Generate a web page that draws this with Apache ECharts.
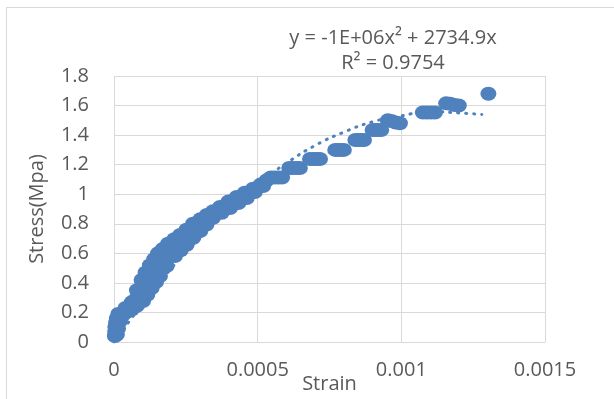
<!DOCTYPE html>
<html>
<head>
<meta charset="utf-8">
<script src="https://cdn.jsdelivr.net/npm/echarts@6/dist/echarts.min.js"></script>
<style>
  html, body { margin: 0; padding: 0; background: #fff; }
  #chart { position: absolute; left: 0; top: 0; width: 614px; height: 399px; }
  #frame { position: absolute; left: 6px; top: 7px; width: 608px; height: 392px;
           border-top: 1px solid #d9d9d9; border-left: 1px solid #d9d9d9; pointer-events: none; }
</style>
</head>
<body>
<div id="chart"></div>
<div id="frame"></div>
<script>
// measured points (strain, stress in MPa), read off the picture
// near-vertical start
const startStrain = [0.000003, 0.000004, 0.000005, 0.000007, 0.000010, 0.000015, 0.000010, 0.000014, 0.000020, 0.000030, 0.000040, 0.000050];
const startStress = [0.04, 0.07, 0.10, 0.13, 0.16, 0.19, 0.05, 0.09, 0.14, 0.18, 0.20, 0.21];

// upper edge of the rising band
const upperStrain = [0.000021, 0.000040, 0.000062, 0.000080, 0.000096, 0.000110, 0.000125, 0.000140, 0.000153, 0.000170, 0.000188, 0.000210, 0.000230, 0.000252, 0.000275, 0.000300, 0.000323, 0.000345, 0.000369, 0.000398, 0.000427, 0.000455, 0.000484, 0.000510, 0.000531];
const upperStress = [0.19, 0.23, 0.27, 0.35, 0.42, 0.47, 0.52, 0.56, 0.60, 0.63, 0.665, 0.695, 0.724, 0.76, 0.80, 0.83, 0.859, 0.885, 0.914, 0.95, 0.981, 1.01, 1.037, 1.065, 1.094];

// middle of the rising band
const midStrain = [0.000062, 0.000072, 0.000080, 0.000090, 0.000101, 0.000115, 0.000131, 0.000145, 0.000160, 0.000172, 0.000183, 0.000197, 0.000212, 0.000232, 0.000253, 0.000276, 0.000299, 0.000322, 0.000345, 0.000375, 0.000404, 0.000433, 0.000462, 0.000490, 0.000519];
const midStress = [0.245, 0.27, 0.30, 0.33, 0.365, 0.41, 0.453, 0.49, 0.528, 0.555, 0.585, 0.615, 0.643, 0.675, 0.71, 0.75, 0.79, 0.825, 0.857, 0.893, 0.929, 0.958, 0.988, 1.025, 1.069];

// lower edge of the rising band
const lowerStrain = [0.000062, 0.000080, 0.000101, 0.000116, 0.000131, 0.000146, 0.000160, 0.000183, 0.000212, 0.000232, 0.000253, 0.000276, 0.000300, 0.000322, 0.000345, 0.000375, 0.000404, 0.000433, 0.000462, 0.000490, 0.000519];
const lowerStress = [0.219, 0.245, 0.277, 0.32, 0.365, 0.405, 0.447, 0.514, 0.582, 0.62, 0.658, 0.705, 0.75, 0.795, 0.84, 0.875, 0.907, 0.94, 0.974, 1.015, 1.055];

// stepped plateaus at the top
const stepStrain = [
  0.000546, 0.000559, 0.000572, 0.000585,
  0.000610, 0.000622, 0.000635, 0.000647,
  0.000682, 0.000694, 0.000706, 0.000717,
  0.000770, 0.000780, 0.000790, 0.000800,
  0.000840, 0.000850, 0.000860, 0.000870,
  0.000900, 0.000910, 0.000920, 0.000930,
  0.000953, 0.000965, 0.000980, 0.000995,
  0.001075, 0.001089, 0.001103, 0.001117,
  0.001156, 0.001170, 0.001185, 0.001200,
  0.001303
];
const stepStress = [
  1.113, 1.113, 1.113, 1.113,
  1.177, 1.177, 1.177, 1.177,
  1.238, 1.238, 1.238, 1.238,
  1.300, 1.300, 1.300, 1.300,
  1.367, 1.367, 1.367, 1.367,
  1.435, 1.435, 1.435, 1.435,
  1.500, 1.495, 1.485, 1.480,
  1.553, 1.553, 1.553, 1.553,
  1.615, 1.612, 1.603, 1.600,
  1.680
];

// polynomial trendline
const trendStrain = [0, 0.0001, 0.0002, 0.0003, 0.0004, 0.0005, 0.0006, 0.0007, 0.0008, 0.0009, 0.001, 0.0011, 0.0012, 0.00128];
const trendStress = [0, 0.26, 0.50, 0.71, 0.90, 1.07, 1.21, 1.33, 1.42, 1.49, 1.53, 1.56, 1.55, 1.54];

const xTickLabels = ['0', '0.0005', '0.001', '0.0015'];
const yTickLabels = ['0', '0.2', '0.4', '0.6', '0.8', '1', '1.2', '1.4', '1.6', '1.8'];
const equationText = 'y = -1E+06x\u00B2 + 2734.9x';
const r2Text = 'R\u00B2 = 0.9754';

const blue = '#4f81bd';
const textColor = '#595959';
const gridColor = '#d9d9d9';
const font = '"Open Sans", "Liberation Sans", sans-serif';

function pairs(xs, ys) {
  return xs.map((x, i) => [x, ys[i]]);
}

const points = [].concat(
  pairs(startStrain, startStress),
  pairs(upperStrain, upperStress),
  pairs(midStrain, midStress),
  pairs(lowerStrain, lowerStress),
  pairs(stepStrain, stepStress)
);

const chart = echarts.init(document.getElementById('chart'), null, { renderer: 'canvas' });

chart.setOption({
  animation: false,
  backgroundColor: '#fff',
  textStyle: { fontFamily: font },
  grid: { left: 114, right: 69, top: 76, bottom: 57, outerBoundsMode: 'none', containLabel: false },
  graphic: [
    { type: 'text', style: { text: equationText, x: 393, y: 38, align: 'center', verticalAlign: 'middle', fill: textColor, font: '20px ' + font } },
    { type: 'text', style: { text: r2Text, x: 393, y: 63, align: 'center', verticalAlign: 'middle', fill: textColor, font: '20px ' + font } }
  ],
  xAxis: {
    type: 'value',
    min: 0,
    max: 0.0015,
    interval: 0.0005,
    name: 'Strain',
    nameLocation: 'middle',
    nameGap: 32,
    nameMoveOverlap: false,
    nameTextStyle: { color: textColor, fontSize: 20, fontFamily: font },
    axisLine: { show: true, lineStyle: { color: gridColor, width: 1 } },
    axisTick: { show: false },
    splitLine: { show: true, lineStyle: { color: gridColor, width: 1 } },
    axisLabel: {
      color: textColor, fontSize: 20, fontFamily: font, margin: 18,
      formatter: (v) => xTickLabels[Math.round(v / 0.0005)]
    }
  },
  yAxis: {
    type: 'value',
    min: 0,
    max: 1.8,
    interval: 0.2,
    name: 'Stress(Mpa)',
    nameLocation: 'middle',
    nameGap: 67,
    nameMoveOverlap: false,
    nameTextStyle: { color: textColor, fontSize: 20, fontFamily: font },
    axisLine: { show: false },
    axisTick: { show: false },
    splitLine: { show: true, lineStyle: { color: gridColor, width: 1 } },
    axisLabel: {
      color: textColor, fontSize: 20, fontFamily: font, margin: 25,
      formatter: (v) => yTickLabels[Math.round(v / 0.2)]
    }
  },
  series: [
    {
      type: 'scatter',
      symbol: 'circle',
      symbolSize: [16, 14],
      itemStyle: { color: blue, opacity: 1 },
      data: points,
      z: 2
    },
    {
      type: 'line',
      smooth: true,
      showSymbol: false,
      symbol: 'none',
      lineStyle: { color: blue, width: 3, type: [1, 7], cap: 'round' },
      data: pairs(trendStrain, trendStress),
      z: 3
    }
  ]
});
</script>
</body>
</html>
